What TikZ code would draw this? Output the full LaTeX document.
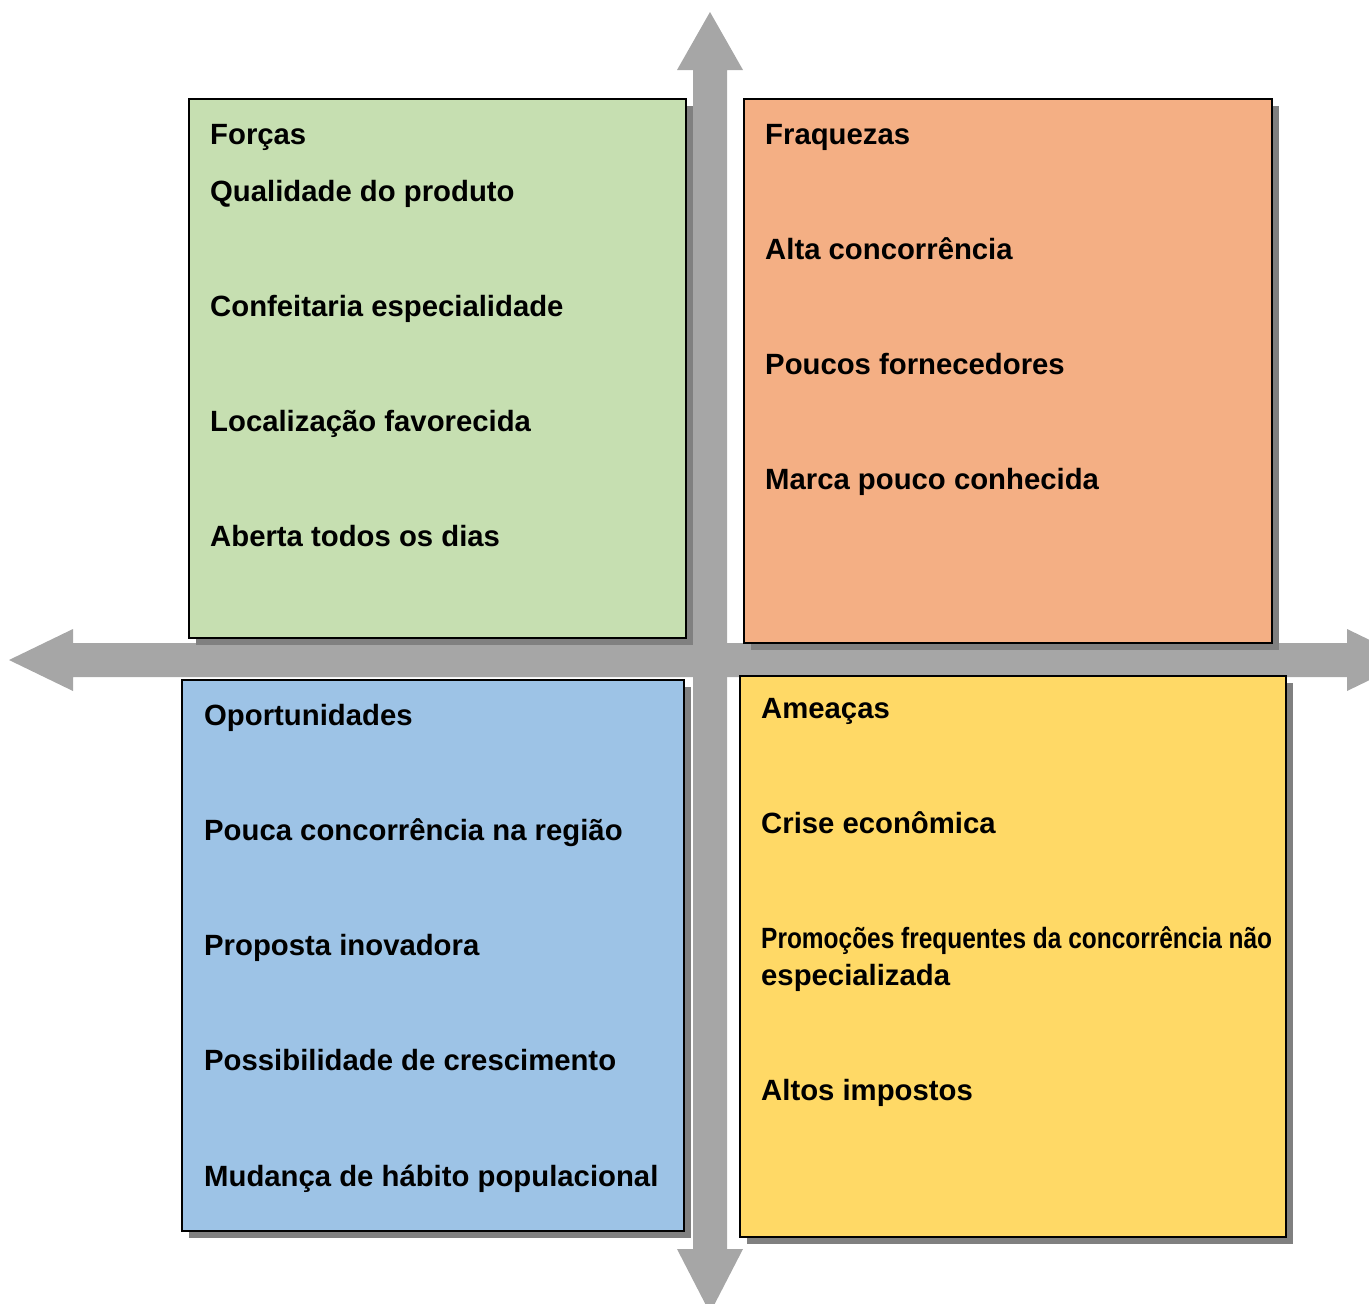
\documentclass[tikz,border=0pt]{standalone}
\usepackage{graphicx}
\usepackage{fontspec}
\setmainfont{Liberation Sans}
\begin{document}
\begin{tikzpicture}[x=1pt,y=-1pt,
  arrowfill/.style={fill=arrowgray, draw=none},
  shadowbox/.style={fill=shadowgray, draw=none},
  quad/.style={draw=black, line width=1.6pt},
  lbl/.style={anchor=base west, inner sep=0pt, font=\fontsize{29.3}{37}\selectfont\bfseries, text=black, align=left}]
\definecolor{arrowgray}{HTML}{A6A6A6}
\definecolor{shadowgray}{HTML}{808080}
\definecolor{cgreen}{HTML}{C6DFB1}
\definecolor{corange}{HTML}{F4AF84}
\definecolor{cblue}{HTML}{9DC3E6}
\definecolor{cyellow}{HTML}{FFD966}
\useasboundingbox (0,0) rectangle (1369,1304);
\clip (0,0) rectangle (1369,1304);
% axes
\fill[arrowfill] (693,70) -- (677,70) -- (710,12) -- (743,70) -- (727,70) -- (727,1249) -- (743,1249) -- (710,1313) -- (677,1249) -- (693,1249) -- cycle;
\fill[arrowfill] (73,643) -- (73,629) -- (9,660) -- (73,691) -- (73,677) -- (1347,677) -- (1347,691) -- (1411,660) -- (1347,629) -- (1347,643) -- cycle;
% shadows
\fill[shadowbox] (196,106) rectangle (693,645);
\fill[shadowbox] (751,106) rectangle (1279,650);
\fill[shadowbox] (189,687) rectangle (691,1238);
\fill[shadowbox] (747,683) rectangle (1293,1244);
% boxes
\draw[quad, fill=cgreen] (189,99) rectangle (686,638) coordinate (g);
\draw[quad, fill=corange] (744,99) rectangle (1272,643) coordinate (o);
\draw[quad, fill=cblue] (182,680) rectangle (684,1231) coordinate (b);
\draw[quad, fill=cyellow] (740,676) rectangle (1286,1237) coordinate (y);
% Forças
\node[lbl] (s0) at (210,144) {Forças};
\node[lbl] (s1) at (210,201) {Qualidade do produto};
\node[lbl] (s2) at (210,316) {Confeitaria especialidade};
\node[lbl] (s3) at (210,431) {Localização favorecida};
\node[lbl] (s4) at (210,546) {Aberta todos os dias};
% Fraquezas
\node[lbl] (w0) at (765,144) {Fraquezas};
\node[lbl] (w1) at (765,259) {Alta concorrência};
\node[lbl] (w2) at (765,374) {Poucos fornecedores};
\node[lbl] (w3) at (765,489) {Marca pouco conhecida};
% Oportunidades
\node[lbl] (p0) at (204,725) {Oportunidades};
\node[lbl] (p1) at (204,840) {Pouca concorrência na região};
\node[lbl] (p2) at (204,955) {Proposta inovadora};
\node[lbl] (p3) at (204,1070) {Possibilidade de crescimento};
\node[lbl] (p4) at (204,1186) {Mudança de hábito populacional};
% Ameaças
\node[lbl] (t0) at (761,718) {Ameaças};
\node[lbl] (t1) at (761,833) {Crise econômica};
\node[lbl] (t2) at (761,948) {\resizebox{511pt}{\height}{Promoções frequentes da concorrência não}};
\node[lbl] (t2b) at (761,985) {especializada};
\node[lbl] (t3) at (761,1100) {Altos impostos};
\end{tikzpicture}
\end{document}
